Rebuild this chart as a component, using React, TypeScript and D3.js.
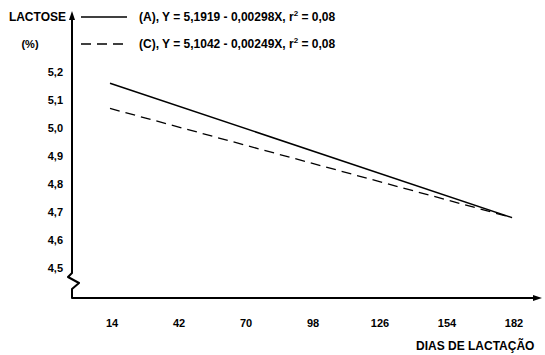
import React, { useEffect, useRef } from 'react';
import * as d3 from 'd3';

// dias de lactação (eixo x)
const dayTicks = [14, 42, 70, 98, 126, 154, 182];
// lactose (%) eixo y
const lactoseTicks = [4.5, 4.6, 4.7, 4.8, 4.9, 5.0, 5.1, 5.2];

// regression lines, read at the ends (day 14 and day 182)
const lineDays = [14, 182];
const lactoseA = [5.16, 4.68];
const lactoseC = [5.07, 4.68];

const legendLabels = [
  { key: 'A', text: '(A), Y = 5,1919 - 0,00298X, r', tail: ' = 0,08', dash: null },
  { key: 'C', text: '(C), Y = 5,1042 - 0,00249X, r', tail: ' = 0,08', dash: '10,6' },
];

const FONT = '"Liberation Sans", Arial, Helvetica, sans-serif';

const App: React.FC = () => {
  const svgRef = useRef<SVGSVGElement>(null);
  const width = 545;
  const height = 355;

  useEffect(() => {
    if (!svgRef.current) return;
    const svg = d3.select(svgRef.current);
    svg.selectAll('*').remove();

    const x = d3.scaleLinear().domain([14, 182]).range([110, 512]);
    const y = d3.scaleLinear().domain([4.5, 5.2]).range([268, 72]);

    const axisX = 72;
    const axisY = 298;

    const g = svg.append('g')
      .style('font-family', FONT)
      .style('font-weight', 'bold')
      .style('font-size', '11px');

    // y axis with a break near the bottom
    const yPath = d3.path();
    yPath.moveTo(axisX, 17);
    yPath.lineTo(axisX, 273);
    yPath.lineTo(68, 277);
    yPath.lineTo(79, 283);
    yPath.lineTo(axisX, 289);
    yPath.lineTo(axisX, axisY);
    yPath.lineTo(535, axisY);
    g.append('path')
      .attr('d', yPath.toString())
      .attr('fill', 'none')
      .attr('stroke', '#000')
      .attr('stroke-width', 2)
      .attr('stroke-linejoin', 'round');

    // arrow heads
    g.append('path')
      .attr('d', `M${axisX},11 L${axisX - 3},20 L${axisX + 3},20 Z`)
      .attr('fill', '#000');
    g.append('path')
      .attr('d', `M542,${axisY} L533,${axisY - 3} L533,${axisY + 3} Z`)
      .attr('fill', '#000');

    // y tick labels
    g.selectAll('text.ytick')
      .data(lactoseTicks)
      .join('text')
      .attr('class', 'ytick')
      .attr('x', 63)
      .attr('y', d => y(d))
      .attr('dy', '0.35em')
      .attr('text-anchor', 'end')
      .text(d => d3.format('.1f')(d).replace('.', ','));

    // x tick labels
    g.selectAll('text.xtick')
      .data(dayTicks)
      .join('text')
      .attr('class', 'xtick')
      .attr('x', d => x(d) + 2)
      .attr('y', 327)
      .attr('text-anchor', 'middle')
      .text(d => String(d));

    // axis titles
    g.append('text').attr('x', 66).attr('y', 21).attr('text-anchor', 'end')
      .style('font-size', '12px').text('LACTOSE');
    g.append('text').attr('x', 30).attr('y', 48).attr('text-anchor', 'middle').text('(%)');
    g.append('text').attr('x', 416).attr('y', 350)
      .style('font-size', '12px').text('DIAS DE LACTAÇÃO');

    // regression lines
    const line = d3.line<number>()
      .x((_, i) => x(lineDays[i]))
      .y(d => y(d));

    g.append('path')
      .attr('d', line(lactoseA))
      .attr('fill', 'none')
      .attr('stroke', '#000')
      .attr('stroke-width', 1.5);

    g.append('path')
      .attr('d', line(lactoseC))
      .attr('fill', 'none')
      .attr('stroke', '#000')
      .attr('stroke-width', 1.3)
      .attr('stroke-dasharray', '10,6');

    // legend
    legendLabels.forEach((d, i) => {
      const ly = 17 + i * 27;
      g.append('line')
        .attr('x1', 81).attr('x2', 127)
        .attr('y1', ly).attr('y2', ly)
        .attr('stroke', '#000')
        .attr('stroke-width', 1.3)
        .attr('stroke-dasharray', d.dash);
      const t = g.append('text').attr('x', 139).attr('y', ly + 4)
        .style('font-size', '12px');
      t.append('tspan').text(d.text);
      t.append('tspan').attr('dy', -5).style('font-size', '8px').text('2');
      t.append('tspan').attr('dy', 5).text(d.tail);
    });
  }, []);

  return (
    <svg
      ref={svgRef}
      width={width}
      height={height}
      style={{ position: 'absolute', left: 0, top: 0, background: '#fff' }}
    />
  );
};

export default App;
